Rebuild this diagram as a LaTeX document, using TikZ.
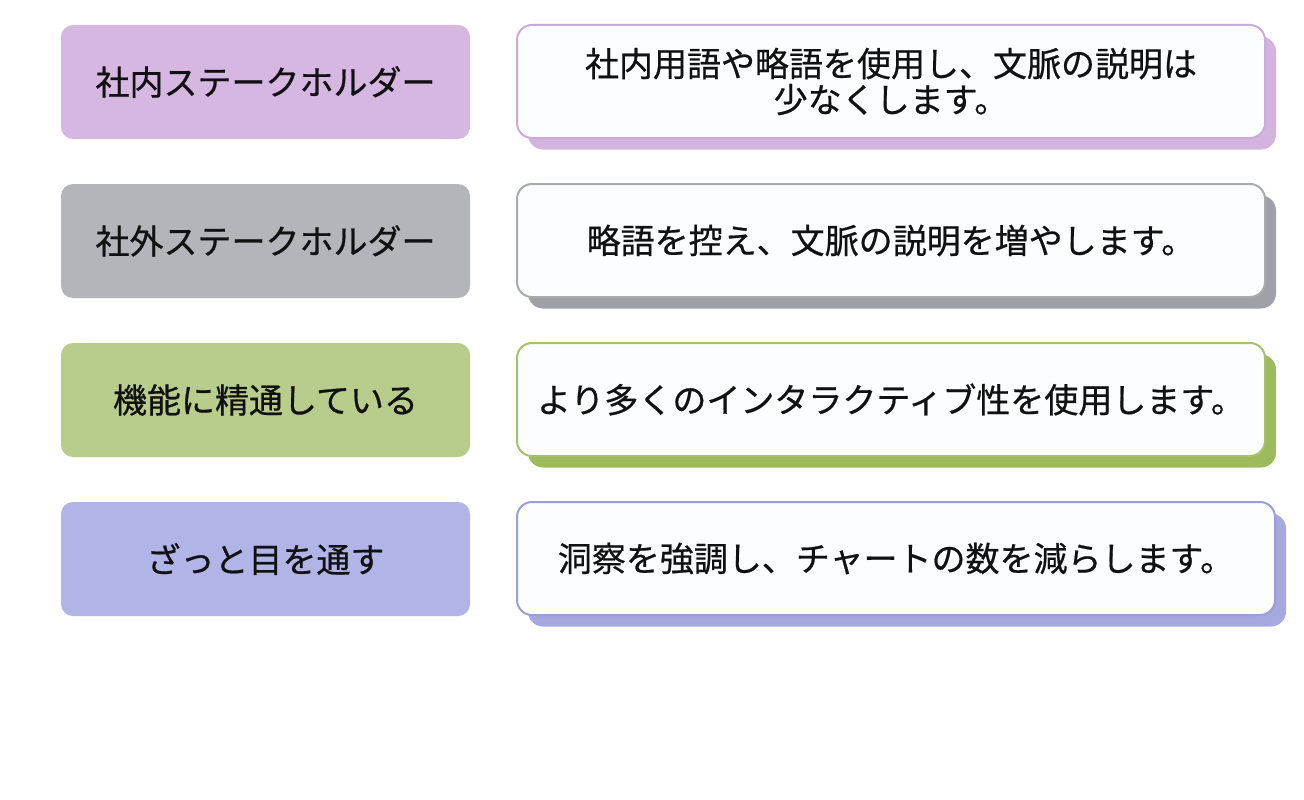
\documentclass[tikz,border=0pt]{standalone}
\usepackage{fontspec}
\setmainfont{Noto Sans CJK JP}[BoldFont=Noto Sans CJK JP, BoldFeatures={FakeBold=0.6}]
\definecolor{pfill}{HTML}{D5B7E1}
\definecolor{pshad}{HTML}{D4B4DF}
\definecolor{pline}{HTML}{CBACD9}
\definecolor{gfill}{HTML}{B4B5BA}
\definecolor{gshad}{HTML}{9FA1A7}
\definecolor{gline}{HTML}{A9AAAF}
\definecolor{nfill}{HTML}{B8CC8C}
\definecolor{nshad}{HTML}{9DBA5C}
\definecolor{nline}{HTML}{A6C16C}
\definecolor{bfill}{HTML}{B1B4E6}
\definecolor{bshad}{HTML}{A6A9DF}
\definecolor{bline}{HTML}{9C9FD6}
\definecolor{front}{HTML}{FBFDFE}
\definecolor{ink}{HTML}{111111}
\begin{document}
\begin{tikzpicture}[x=1pt,y=-1pt,
  lbox/.style={rounded corners=12pt, minimum width=409pt, minimum height=114pt, inner sep=0pt,
    font=\fontsize{34}{40}\selectfont\bfseries, text=ink},
  rbox/.style={rounded corners=15pt, minimum height=113pt, inner sep=0pt, line width=2pt,
    fill=front, font=\fontsize{34}{36}\selectfont\bfseries, text=ink, align=center},
  sbox/.style={rounded corners=15pt, minimum height=113pt, inner sep=0pt}]
\useasboundingbox (0,0) rectangle (1304,800);
\fill[white] (0,0) rectangle (1304,800);
% row 1
\node[lbox, fill=pfill] (L1) at (265.5,82) {社内ステークホルダー};
\node[sbox, fill=pshad, minimum width=748pt] (S1) at (902,93) {};
\node[rbox, draw=pline, minimum width=748pt] (R1) at (891,81.5) {社内用語や略語を使用し、文脈の説明は\\少なくします。};
% row 2
\node[lbox, fill=gfill] (L2) at (265.5,241) {社外ステークホルダー};
\node[sbox, fill=gshad, minimum width=748pt] (S2) at (902,252) {};
\node[rbox, draw=gline, minimum width=748pt] (R2) at (891,240.5) {略語を控え、文脈の説明を増やします。};
% row 3
\node[lbox, fill=nfill] (L3) at (265.5,400) {機能に精通している};
\node[sbox, fill=nshad, minimum width=748pt] (S3) at (902,411) {};
\node[rbox, draw=nline, minimum width=748pt] (R3) at (891,399.5) {より多くのインタラクティブ性を使用します。};
% row 4
\node[lbox, fill=bfill] (L4) at (265.5,559) {ざっと目を通す};
\node[sbox, fill=bshad, minimum width=758pt] (S4) at (907,570) {};
\node[rbox, draw=bline, minimum width=758pt] (R4) at (896,558.5) {洞察を強調し、チャートの数を減らします。};
\end{tikzpicture}
\end{document}
